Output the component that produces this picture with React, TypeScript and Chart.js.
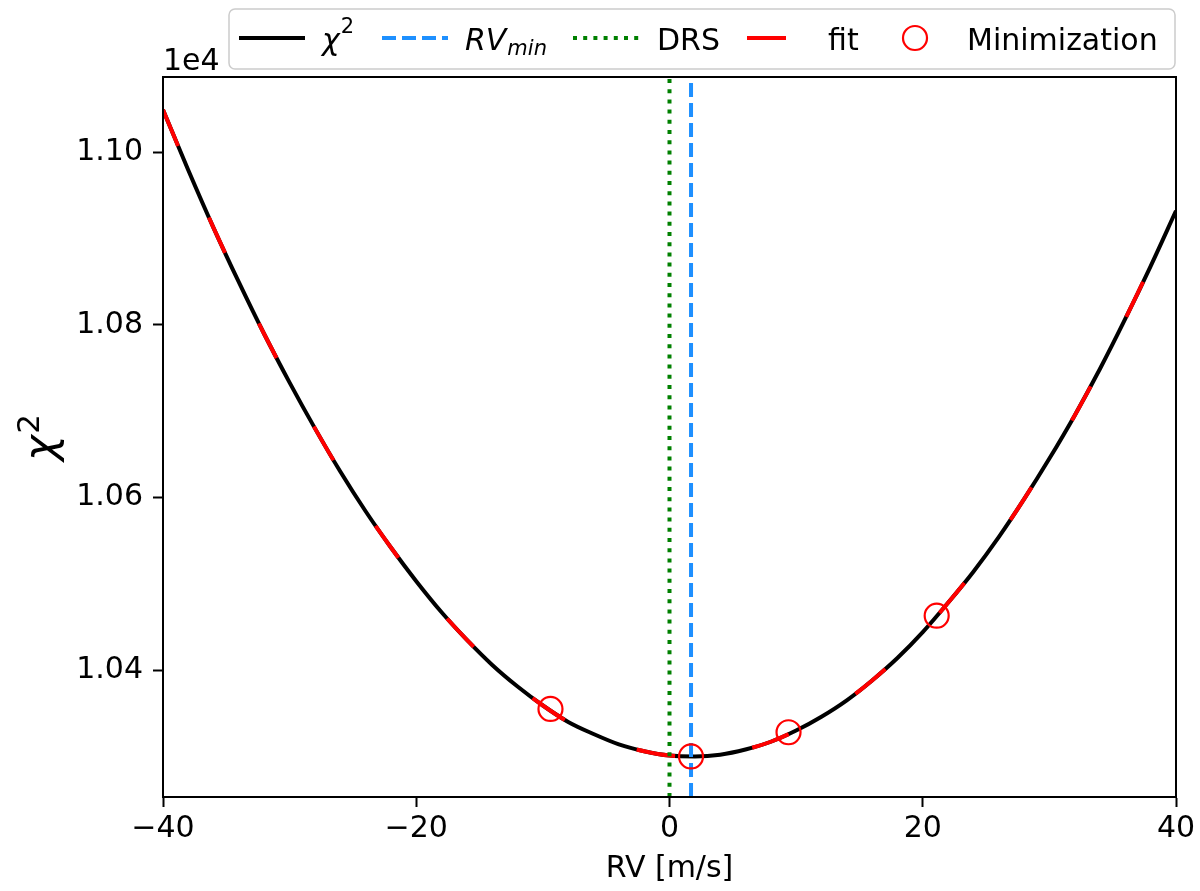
import React, { useEffect, useRef } from 'react';
import { Chart, registerables } from 'chart.js';

Chart.register(...registerables);
Chart.defaults.font.family = "'DejaVu Sans', sans-serif";

// values
const RV_GRID = [
  -40, -38, -36, -34, -32, -30, -28, -26, -24, -22, -20, -18, -16, -14, -12, -10, -8, -6, -4, -2,
  0, 2, 4, 6, 8, 10, 12, 14, 16, 18, 20, 22, 24, 26, 28, 30, 32, 34, 36, 38, 40,
];
const CHI2 = [
  11049, 10979, 10912, 10849, 10789, 10733, 10680, 10630, 10584, 10542, 10503, 10467, 10435, 10406,
  10381, 10359, 10340, 10326, 10314, 10306, 10301, 10300, 10302, 10308, 10317, 10330, 10346, 10365,
  10388, 10414, 10444, 10478, 10514, 10554, 10598, 10645, 10695, 10749, 10807, 10868, 10932,
];
// the fit sits on top of the chi2 curve
const FIT = CHI2;
const MIN_RV = [-9.4, 1.7, 9.4, 21.1];
const MIN_CHI2 = [10355, 10300, 10328, 10463];
const RV_MIN = 1.7;
const DRS_RV = 0;

const X_RANGE = [-40, 40];
const Y_RANGE = [10253, 11087];
const X_TICKS = [-40, -20, 0, 20, 40];
const Y_TICKS = [10400, 10600, 10800, 11000];

const FONT = "'DejaVu Sans', sans-serif";
const LW = 4;

const fmtMinus = (v: number) => (v < 0 ? '\u2212' + Math.abs(v) : String(v));

const framePlugin = {
  id: 'frame',
  afterDatasetsDraw(chart: any) {
    const { ctx, chartArea } = chart;
    const { left, top, right, bottom } = chartArea;
    ctx.save();
    ctx.strokeStyle = '#000';
    ctx.lineWidth = 2;
    ctx.strokeRect(left, top, right - left, bottom - top);
    ctx.restore();
  },
};

function handleLine(ctx: CanvasRenderingContext2D, x: number, y: number, color: string, dash: number[]) {
  ctx.save();
  ctx.strokeStyle = color;
  ctx.lineWidth = LW;
  ctx.setLineDash(dash);
  ctx.beginPath();
  ctx.moveTo(x, y);
  ctx.lineTo(x + 66, y);
  ctx.stroke();
  ctx.restore();
}

const labelsPlugin = {
  id: 'labels',
  afterDraw(chart: any) {
    const ctx: CanvasRenderingContext2D = chart.ctx;
    const { left, top, bottom } = chart.chartArea;
    ctx.save();
    ctx.fillStyle = '#000';
    ctx.textBaseline = 'alphabetic';

    // offset text
    ctx.font = `30px ${FONT}`;
    ctx.textAlign = 'left';
    ctx.fillText('1e4', left, top - 7);

    // y label chi^2, rotated
    ctx.save();
    ctx.translate(55, (top + bottom) / 2);
    ctx.rotate(-Math.PI / 2);
    ctx.font = `italic 44px ${FONT}`;
    const wChi = ctx.measureText('\u03c7').width;
    ctx.font = `31px ${FONT}`;
    const w2 = ctx.measureText('2').width;
    const x0 = -(wChi + w2 + 2) / 2;
    ctx.font = `italic 44px ${FONT}`;
    ctx.fillText('\u03c7', x0, 0);
    ctx.font = `31px ${FONT}`;
    ctx.fillText('2', x0 + wChi + 1, -16);
    ctx.restore();

    // legend box
    const bx = 229, by = 9, bw = 946, bh = 60, r = 6;
    ctx.save();
    ctx.beginPath();
    ctx.moveTo(bx + r, by);
    ctx.arcTo(bx + bw, by, bx + bw, by + bh, r);
    ctx.arcTo(bx + bw, by + bh, bx, by + bh, r);
    ctx.arcTo(bx, by + bh, bx, by, r);
    ctx.arcTo(bx, by, bx + bw, by, r);
    ctx.closePath();
    ctx.fillStyle = 'rgba(255,255,255,0.8)';
    ctx.fill();
    ctx.strokeStyle = '#cccccc';
    ctx.lineWidth = 1.5;
    ctx.stroke();
    ctx.restore();

    const ly = 38;
    const base = 50;
    handleLine(ctx, 239, ly, '#000000', []);
    ctx.font = `italic 30px ${FONT}`;
    ctx.fillText('\u03c7', 322, base);
    const wc = ctx.measureText('\u03c7').width;
    ctx.font = `21px ${FONT}`;
    ctx.fillText('2', 322 + wc + 1, 33);

    handleLine(ctx, 382, ly, '#1e90ff', [14, 6]);
    ctx.font = `italic 30px ${FONT}`;
    ctx.fillText('RV', 465, base);
    const wRV = ctx.measureText('RV').width;
    ctx.font = `italic 21px ${FONT}`;
    ctx.fillText('min', 465 + wRV + 1, base + 5);

    handleLine(ctx, 573, ly, '#008000', [4, 6.2]);
    ctx.font = `30px ${FONT}`;
    ctx.fillText('DRS', 657, base);

    handleLine(ctx, 747, ly, '#ff0000', [39, 78]);
    ctx.fillText('fit', 828, base);

    ctx.save();
    ctx.strokeStyle = '#ff0000';
    ctx.lineWidth = 2.2;
    ctx.beginPath();
    ctx.arc(915, ly, 12, 0, Math.PI * 2);
    ctx.stroke();
    ctx.restore();
    ctx.fillText('Minimization', 967, base);

    ctx.restore();
  },
};

function RvChart() {
  const canvasRef = useRef<HTMLCanvasElement>(null);
  const chartRef = useRef<Chart | null>(null);

  useEffect(() => {
    if (!canvasRef.current) return;
    const ctx = canvasRef.current.getContext('2d');
    if (!ctx) return;
    if (chartRef.current) chartRef.current.destroy();

    const curve = RV_GRID.map((x, i) => ({ x, y: CHI2[i] }));
    const fitCurve = RV_GRID.map((x, i) => ({ x, y: FIT[i] }));
    const minPts = MIN_RV.map((x, i) => ({ x, y: MIN_CHI2[i] }));

    const gridCfg = {
      drawOnChartArea: false,
      drawTicks: true,
      tickLength: 10,
      tickWidth: 2,
      tickColor: '#000',
    };

    chartRef.current = new Chart(ctx, {
      type: 'scatter',
      data: {
        datasets: [
          {
            label: 'Minimization',
            data: minPts,
            showLine: false,
            pointRadius: 12,
            pointHoverRadius: 12,
            pointBorderColor: '#ff0000',
            pointBackgroundColor: 'rgba(0,0,0,0)',
            pointBorderWidth: 2.2,
            clip: false,
          },
          {
            label: 'RVmin',
            data: [
              { x: RV_MIN, y: Y_RANGE[0] },
              { x: RV_MIN, y: Y_RANGE[1] },
            ],
            showLine: true,
            borderColor: '#1e90ff',
            borderWidth: LW,
            borderDash: [14, 6],
            pointRadius: 0,
          },
          {
            label: 'DRS',
            data: [
              { x: DRS_RV, y: Y_RANGE[0] },
              { x: DRS_RV, y: Y_RANGE[1] },
            ],
            showLine: true,
            borderColor: '#008000',
            borderWidth: LW,
            borderDash: [4, 6.2],
            pointRadius: 0,
          },
          {
            label: 'fit',
            data: fitCurve,
            showLine: true,
            borderColor: '#ff0000',
            borderWidth: LW,
            borderDash: [39, 78],
            pointRadius: 0,
            cubicInterpolationMode: 'monotone',
          },
          {
            label: 'chi2',
            data: curve,
            showLine: true,
            borderColor: '#000000',
            borderWidth: LW,
            pointRadius: 0,
            cubicInterpolationMode: 'monotone',
          },
        ],
      },
      options: {
        animation: false,
        responsive: true,
        maintainAspectRatio: false,
        layout: { padding: { top: 77, right: 24, left: 0, bottom: 0 } },
        scales: {
          x: {
            type: 'linear',
            min: X_RANGE[0],
            max: X_RANGE[1],
            afterBuildTicks: (s: any) => {
              s.ticks = X_TICKS.map((value) => ({ value }));
            },
            afterFit: (s: any) => {
              s.height = 94;
            },
            ticks: {
              callback: (v: any) => fmtMinus(Number(v)),
              color: '#000',
              font: { size: 30 },
              padding: 4,
              maxRotation: 0,
              autoSkip: false,
            },
            grid: gridCfg,
            border: { display: true, color: '#000', width: 2 },
            title: {
              display: true,
              text: 'RV [m/s]',
              color: '#000',
              font: { size: 30 },
              padding: { top: 0, bottom: 4 },
            },
          },
          y: {
            type: 'linear',
            min: Y_RANGE[0],
            max: Y_RANGE[1],
            afterBuildTicks: (s: any) => {
              s.ticks = Y_TICKS.map((value) => ({ value }));
            },
            afterFit: (s: any) => {
              s.width = 163;
            },
            ticks: {
              callback: (v: any) => (Number(v) / 1e4).toFixed(2),
              color: '#000',
              font: { size: 30 },
              padding: 10,
            },
            grid: gridCfg,
            border: { display: true, color: '#000', width: 2 },
          },
        },
        plugins: {
          legend: { display: false },
          tooltip: { enabled: false },
        },
      },
      plugins: [framePlugin, labelsPlugin],
    } as any);

    return () => {
      if (chartRef.current) chartRef.current.destroy();
      chartRef.current = null;
    };
  }, []);

  return (
    <div style={{ position: 'absolute', left: 0, top: 0, width: '1200px', height: '891px', background: '#fff' }}>
      <canvas ref={canvasRef} />
    </div>
  );
}

export default function App() {
  return <RvChart />;
}
